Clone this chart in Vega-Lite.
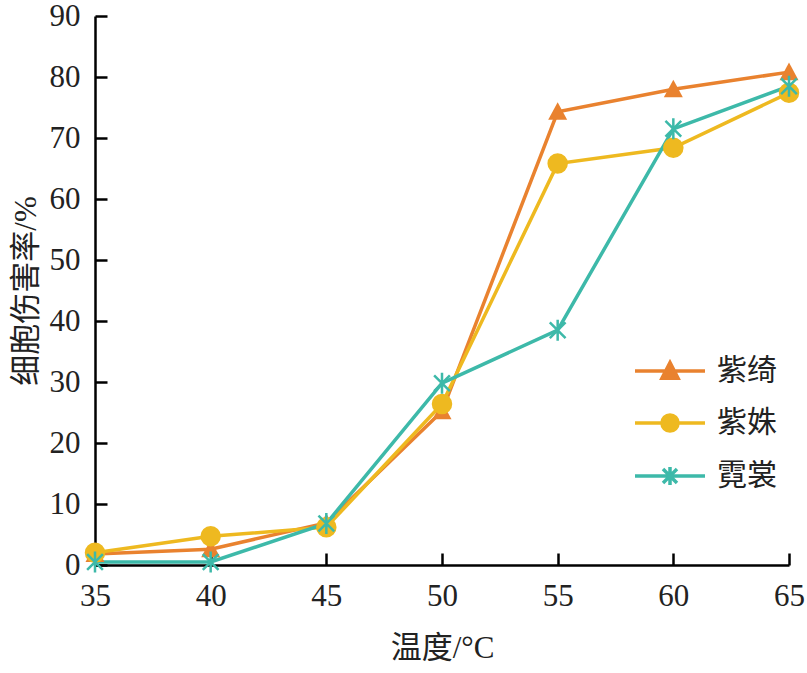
{
  "$schema": "https://vega.github.io/schema/vega-lite/v6.json",
  "width": 694,
  "height": 549,
  "autosize": {"type": "none"},
  "padding": {"left": 95, "top": 16, "right": 18, "bottom": 108},
  "background": "white",
  "data": {
    "values": [
      {"x": 35, "y": 1.8, "series": "紫绮"},
      {"x": 40, "y": 2.6, "series": "紫绮"},
      {"x": 45, "y": 6.9, "series": "紫绮"},
      {"x": 50, "y": 25.2, "series": "紫绮"},
      {"x": 55, "y": 74.3, "series": "紫绮"},
      {"x": 60, "y": 78.0, "series": "紫绮"},
      {"x": 65, "y": 80.8, "series": "紫绮"},
      {"x": 35, "y": 2.0, "series": "紫姝"},
      {"x": 40, "y": 4.7, "series": "紫姝"},
      {"x": 45, "y": 6.2, "series": "紫姝"},
      {"x": 50, "y": 26.4, "series": "紫姝"},
      {"x": 55, "y": 65.8, "series": "紫姝"},
      {"x": 60, "y": 68.4, "series": "紫姝"},
      {"x": 65, "y": 77.4, "series": "紫姝"},
      {"x": 35, "y": 0.5, "series": "霓裳"},
      {"x": 40, "y": 0.5, "series": "霓裳"},
      {"x": 45, "y": 6.8, "series": "霓裳"},
      {"x": 50, "y": 29.8, "series": "霓裳"},
      {"x": 55, "y": 38.5, "series": "霓裳"},
      {"x": 60, "y": 71.5, "series": "霓裳"},
      {"x": 65, "y": 78.5, "series": "霓裳"}
    ]
  },
  "encoding": {
    "x": {
      "field": "x", "type": "quantitative",
      "scale": {"domain": [35, 65], "nice": false, "zero": false},
      "axis": {"values": [35, 40, 45, 50, 55, 60, 65], "title": "温度/°C", "titlePadding": 22, "labelFlush": false}
    },
    "y": {
      "field": "y", "type": "quantitative",
      "scale": {"domain": [0, 90], "nice": false},
      "axis": {"values": [0, 10, 20, 30, 40, 50, 60, 70, 80, 90], "title": "细胞伤害率/%", "titlePadding": 7, "labelFlush": false}
    }
  },
  "layer": [
    {
      "mark": {"type": "line", "strokeWidth": 3.5},
      "encoding": {
        "color": {
          "field": "series", "type": "nominal",
          "scale": {"domain": ["霓裳", "紫绮", "紫姝"], "range": ["#3DB9A9", "#E9822F", "#EEB920"]},
          "legend": null
        }
      }
    },
    {
      "transform": [{"filter": "datum.series === '紫绮'"}],
      "mark": {"type": "point", "filled": true, "opacity": 1, "size": 361, "shape": "M0,-1L1,0.85L-1,0.85Z"},
      "encoding": {"color": {"field": "series", "type": "nominal", "legend": null}}
    },
    {
      "transform": [{"filter": "datum.series === '紫姝'"}],
      "mark": {"type": "point", "filled": true, "opacity": 1, "size": 420, "shape": "circle"},
      "encoding": {"color": {"field": "series", "type": "nominal", "legend": null}}
    },
    {
      "transform": [{"filter": "datum.series === '霓裳'"}],
      "mark": {"type": "point", "filled": false, "opacity": 1, "size": 441, "strokeWidth": 2.5, "shape": "M0,-1V1M-0.75,-0.75L0.75,0.75M-0.75,0.75L0.75,-0.75"},
      "encoding": {"color": {"field": "series", "type": "nominal", "legend": null}}
    },
    {
      "transform": [{"filter": "datum.x < 0"}],
      "mark": {"type": "point", "filled": true, "size": 4900, "strokeWidth": 3.5},
      "encoding": {
        "fill": {
          "field": "series", "type": "nominal",
          "scale": {"domain": ["紫绮", "紫姝", "霓裳"], "range": ["#E9822F", "#EEB920", "#3DB9A9"]}
        },
        "stroke": {
          "field": "series", "type": "nominal",
          "scale": {"domain": ["紫绮", "紫姝", "霓裳"], "range": ["#E9822F", "#EEB920", "#3DB9A9"]}
        },
        "shape": {
          "field": "series", "type": "nominal",
          "scale": {
            "domain": ["紫绮", "紫姝", "霓裳"],
            "range": [
              "M-1,0H1M0,-0.24L0.23,0.21L-0.23,0.21Z",
              "M-1,0H1M0.23,0A0.23,0.23,0,1,1,-0.23,0A0.23,0.23,0,1,1,0.23,0Z",
              "M-1,0H1M0,-0.26V0.26M-0.2,-0.2L0.2,0.2M-0.2,0.2L0.2,-0.2"
            ]
          }
        }
      }
    }
  ],
  "config": {
    "view": {"stroke": null},
    "legend": {
      "title": null,
      "orient": "none",
      "legendX": 538,
      "legendY": 318,
      "padding": 0,
      "symbolSize": 4900,
      "symbolStrokeWidth": 3.5,
      "symbolFillColor": "#888888",
      "symbolStrokeColor": "#888888",
      "symbolOpacity": 1,
      "labelFont": "Liberation Serif, Noto Sans CJK SC",
      "labelFontSize": 30,
      "labelColor": "#222222",
      "labelOffset": 10,
      "rowPadding": 0
    },
    "axis": {
      "grid": false,
      "domainColor": "#000000",
      "domainWidth": 2.5,
      "tickColor": "#000000",
      "tickWidth": 2.5,
      "tickSize": -12,
      "labelFont": "Liberation Serif",
      "labelFontSize": 31,
      "labelColor": "#222222",
      "titleFont": "Liberation Serif, Noto Sans CJK SC",
      "titleFontSize": 31,
      "titleFontWeight": "normal",
      "titleColor": "#222222"
    },
    "axisX": {"labelPadding": 28},
    "axisY": {"labelPadding": 27}
  }
}
